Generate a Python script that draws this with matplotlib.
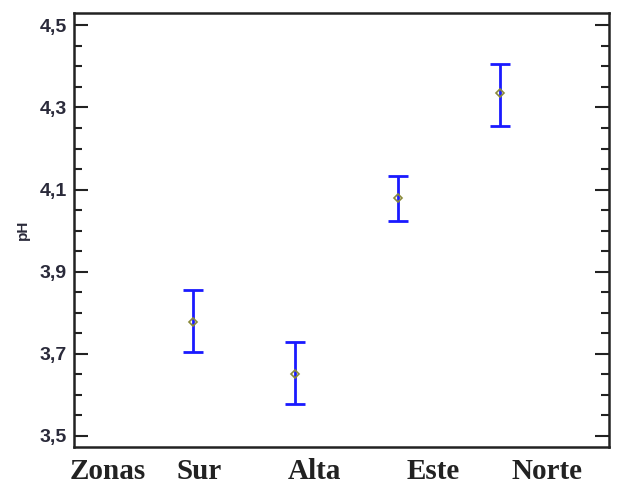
import matplotlib
matplotlib.use("Agg")
import matplotlib.pyplot as plt
from matplotlib.ticker import FixedLocator, MultipleLocator, FuncFormatter

# medias de pH por zona y limites del intervalo
zonas = ["Sur", "Alta", "Este", "Norte"]
media = [3.777, 3.651, 4.079, 4.335]
inferior = [3.704, 3.578, 4.023, 4.254]
superior = [3.856, 3.729, 4.133, 4.405]
ticks_y = [3.5, 3.7, 3.9, 4.1, 4.3, 4.5]

x = list(range(1, len(zonas) + 1))
err = [[m - lo for m, lo in zip(media, inferior)],
       [hi - m for m, hi in zip(media, superior)]]

fig = plt.figure(figsize=(6.19, 4.87), dpi=100)
ax = fig.add_axes([0.1196, 0.0821, 0.8644, 0.8912])

ax.errorbar(x, media, yerr=err, fmt="none", ecolor="#1a1aff",
            elinewidth=2, capsize=7.5, capthick=2)
ax.plot(x, media, "D", ms=4, mfc="none", mec="#8a8a3a", mew=1.2)

ax.set_xlim(-0.16, 5.06)
ax.set_ylim(3.473, 4.53)
ax.yaxis.set_major_locator(FixedLocator(ticks_y))
ax.yaxis.set_minor_locator(MultipleLocator(0.05))
ax.yaxis.set_major_formatter(FuncFormatter(lambda v, p: f"{v:.1f}".replace(".", ",")))
ax.set_xticks([])
ax.tick_params(axis="y", which="both", direction="in", right=True,
               width=1.5, colors="#222222")
ax.tick_params(axis="y", which="major", length=10, labelsize=14, pad=5)
ax.tick_params(axis="y", which="minor", length=6)
for lab in ax.get_yticklabels():
    lab.set_fontweight("bold")
    lab.set_family("Liberation Sans")
    lab.set_color("#2a2a3a")
for s in ax.spines.values():
    s.set_linewidth(1.8)
    s.set_color("#222222")

ax.set_ylabel("pH", fontsize=11, fontweight="bold", family="Liberation Sans",
              color="#2a2a3a", labelpad=7)

# etiquetas de zonas bajo el eje
etiquetas = ["Zonas"] + zonas
pos_x = [108, 199, 314, 433, 547]
for t, px in zip(etiquetas, pos_x):
    fig.text(px / 619, 1 - 479 / 487, t, ha="center", va="baseline",
             family="Liberation Serif", fontweight="bold", fontsize=21,
             color="#222222")

fig.savefig("out.png", dpi=100)
